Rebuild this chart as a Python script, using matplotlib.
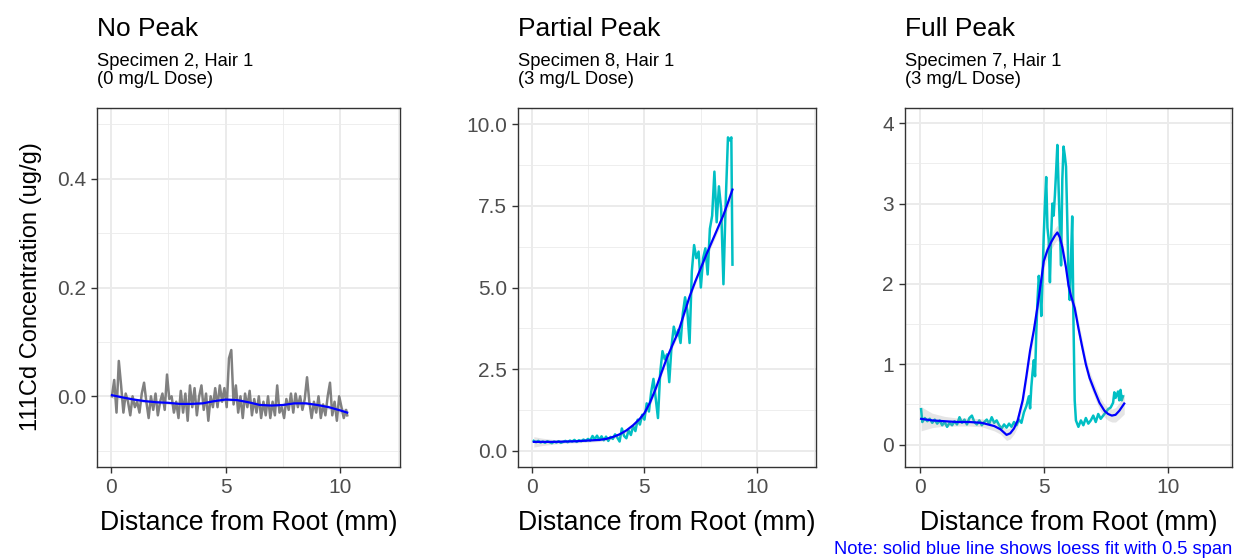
import numpy as np
import matplotlib.pyplot as plt

plt.rcParams['font.family'] = ['Liberation Sans', 'DejaVu Sans']

# Specimen 2, Hair 1 (0 mg/L) - raw trace
x_s2 = [0.05, 0.15, 0.25, 0.35, 0.45, 0.55, 0.65, 0.75, 0.85, 0.95,
        1.05, 1.15, 1.25, 1.35, 1.45, 1.55, 1.65, 1.75, 1.85, 1.95,
        2.05, 2.15, 2.25, 2.35, 2.45, 2.55, 2.65, 2.75, 2.85, 2.95,
        3.05, 3.15, 3.25, 3.35, 3.45, 3.55, 3.65, 3.75, 3.85, 3.95,
        4.05, 4.15, 4.25, 4.35, 4.45, 4.55, 4.65, 4.75, 4.85, 4.95,
        5.05, 5.15, 5.25, 5.35, 5.45, 5.55, 5.65, 5.75, 5.85, 5.95,
        6.05, 6.15, 6.25, 6.35, 6.45, 6.55, 6.65, 6.75, 6.85, 6.95,
        7.05, 7.15, 7.25, 7.35, 7.45, 7.55, 7.65, 7.75, 7.85, 7.95,
        8.05, 8.15, 8.25, 8.35, 8.45, 8.55, 8.65, 8.75, 8.85, 8.95,
        9.05, 9.15, 9.25, 9.35, 9.45, 9.55, 9.65, 9.75, 9.85, 9.95,
        10.05, 10.15, 10.25, 10.3]
y_s2 = [0.000, 0.030, -0.030, 0.065, 0.020, -0.030, 0.005, -0.010, -0.035, 0.000,
        -0.020, -0.010, -0.030, 0.005, 0.025, -0.010, -0.040, 0.000, -0.025, 0.005,
        -0.035, -0.010, 0.005, -0.025, 0.040, -0.005, 0.000, -0.030, -0.010, -0.040,
        0.010, -0.030, 0.005, -0.045, 0.020, -0.020, 0.015, -0.035, 0.000, 0.020,
        -0.025, 0.005, -0.045, 0.000, -0.020, 0.015, -0.020, 0.020, -0.010, 0.015,
        -0.020, 0.070, 0.085, -0.015, 0.020, -0.030, 0.000, -0.040, 0.005, -0.020,
        0.010, -0.035, -0.005, -0.030, 0.000, -0.040, -0.010, -0.035, 0.000, -0.040,
        -0.010, -0.035, 0.020, -0.030, -0.020, -0.040, -0.005, -0.025, 0.005, -0.030,
        0.005, -0.020, 0.000, -0.025, -0.005, 0.035, -0.010, -0.040, -0.010, -0.030,
        0.000, -0.040, -0.015, -0.035, 0.000, 0.025, -0.035, -0.010, -0.045, 0.000,
        -0.020, -0.040, -0.025, -0.035]
# loess fit (span 0.5) and its standard error
fx_s2 = [0.05, 0.5, 1, 1.5, 2, 2.5, 3, 3.5, 4, 4.5, 5, 5.5, 6, 6.5, 7, 7.5,
         8, 8.5, 9, 9.5, 10, 10.3]
fy_s2 = [0.002, -0.002, -0.006, -0.009, -0.011, -0.012, -0.014, -0.014, -0.013,
         -0.009, -0.006, -0.007, -0.011, -0.016, -0.017, -0.016, -0.013, -0.013,
         -0.016, -0.020, -0.026, -0.030]
se_s2 = [0.006, 0.004, 0.003, 0.003, 0.003, 0.003, 0.003, 0.003, 0.003, 0.003,
         0.003, 0.003, 0.003, 0.003, 0.003, 0.003, 0.003, 0.003, 0.003, 0.004,
         0.005, 0.007]

# Specimen 8, Hair 1 (3 mg/L)
x_s8 = [0.1, 0.2, 0.3, 0.4, 0.5, 0.6, 0.7, 0.8, 0.9, 1.0,
        1.1, 1.2, 1.3, 1.4, 1.5, 1.6, 1.7, 1.8, 1.9, 2.0,
        2.1, 2.2, 2.3, 2.4, 2.5, 2.6, 2.7, 2.8, 2.9, 3.0,
        3.1, 3.2, 3.3, 3.4, 3.5, 3.6, 3.7, 3.8, 3.9, 4.0,
        4.1, 4.2, 4.3, 4.4, 4.5, 4.6, 4.7, 4.8, 4.9, 5.0,
        5.1, 5.2, 5.3, 5.4, 5.5, 5.6, 5.7, 5.8, 5.9, 6.0,
        6.1, 6.2, 6.3, 6.4, 6.5, 6.6, 6.7, 6.8, 6.9, 7.0,
        7.1, 7.2, 7.3, 7.4, 7.5, 7.6, 7.7, 7.8, 7.9, 8.0,
        8.1, 8.2, 8.3, 8.4, 8.5, 8.6, 8.7, 8.8, 8.85, 8.9]
y_s8 = [0.30, 0.26, 0.30, 0.25, 0.28, 0.24, 0.29, 0.26, 0.23, 0.28,
        0.25, 0.29, 0.24, 0.27, 0.30, 0.26, 0.31, 0.28, 0.33, 0.27,
        0.32, 0.29, 0.34, 0.30, 0.36, 0.31, 0.45, 0.35, 0.46, 0.33,
        0.44, 0.32, 0.43, 0.30, 0.42, 0.36, 0.50, 0.40, 0.28, 0.68,
        0.45, 0.38, 0.62, 0.48, 0.75, 0.60, 0.95, 0.80, 1.10, 0.95,
        1.45, 1.20, 1.80, 2.20, 1.60, 1.00, 2.40, 3.05, 2.80, 2.95,
        2.10, 3.20, 3.80, 3.50, 3.70, 3.30, 4.20, 4.70, 4.30, 3.30,
        5.50, 6.30, 5.90, 6.10, 5.00, 5.90, 6.20, 5.40, 6.80, 7.20,
        8.55, 7.00, 8.10, 7.40, 5.10, 7.60, 9.60, 9.50, 9.60, 5.70]
fx_s8 = [0.1, 0.5, 1, 1.5, 2, 2.5, 3, 3.3, 3.6, 3.9, 4.2, 4.5, 4.8, 5.0,
         5.25, 5.5, 5.75, 6.0, 6.25, 6.5, 6.75, 7.0, 7.25, 7.5, 7.75, 8.0,
         8.25, 8.5, 8.7, 8.9]
fy_s8 = [0.27, 0.27, 0.27, 0.28, 0.29, 0.31, 0.33, 0.36, 0.42, 0.50, 0.62,
         0.78, 0.98, 1.15, 1.48, 1.90, 2.38, 2.85, 3.25, 3.64, 4.18, 4.72,
         5.18, 5.60, 6.02, 6.42, 6.82, 7.22, 7.60, 8.00]
se_s8 = [0.16, 0.11, 0.07, 0.05, 0.05, 0.05, 0.05, 0.05, 0.05, 0.06, 0.06,
         0.07, 0.08, 0.08, 0.09, 0.09, 0.09, 0.09, 0.09, 0.09, 0.09, 0.09,
         0.09, 0.10, 0.10, 0.11, 0.12, 0.15, 0.18, 0.22]

# Specimen 7, Hair 1 (3 mg/L)
x_s7 = [0.05, 0.1, 0.2, 0.3, 0.4, 0.5, 0.6, 0.7, 0.8, 0.9, 1.0,
        1.1, 1.2, 1.3, 1.4, 1.5, 1.6, 1.7, 1.8, 1.9, 2.0,
        2.1, 2.2, 2.3, 2.4, 2.5, 2.6, 2.7, 2.8, 2.9, 3.0,
        3.1, 3.2, 3.3, 3.4, 3.5, 3.6, 3.7, 3.8, 3.9, 4.0,
        4.1, 4.2, 4.3, 4.4, 4.45, 4.5, 4.55, 4.6, 4.65, 4.7,
        4.75, 4.8, 4.85, 4.9, 4.95, 5.0, 5.05, 5.1, 5.15, 5.2,
        5.25, 5.3, 5.35, 5.4, 5.45, 5.5, 5.55, 5.6, 5.65, 5.7,
        5.75, 5.8, 5.85, 5.9, 5.95, 6.0, 6.05, 6.1, 6.15, 6.2,
        6.25, 6.3, 6.4, 6.5, 6.6, 6.7, 6.8, 6.9, 7.0, 7.1,
        7.2, 7.3, 7.4, 7.5, 7.6, 7.7, 7.8, 7.85, 7.9, 8.0,
        8.05, 8.1, 8.15, 8.2]
y_s7 = [0.44, 0.28, 0.33, 0.29, 0.32, 0.27, 0.31, 0.26, 0.30, 0.24, 0.28,
        0.22, 0.27, 0.24, 0.29, 0.25, 0.34, 0.27, 0.31, 0.25, 0.33,
        0.36, 0.28, 0.25, 0.30, 0.24, 0.28, 0.31, 0.26, 0.34, 0.27,
        0.30, 0.24, 0.20, 0.25, 0.21, 0.26, 0.22, 0.28, 0.24, 0.31,
        0.27, 0.40, 0.48, 0.60, 0.45, 0.72, 0.90, 1.05, 0.85, 1.40,
        1.80, 2.10, 1.95, 1.60, 2.05, 2.60, 3.00, 3.33, 2.70, 2.55,
        2.02, 2.60, 3.00, 2.85, 3.10, 3.40, 3.73, 3.20, 2.70, 2.23,
        3.30, 3.71, 3.60, 3.46, 2.80, 2.10, 1.80, 2.30, 2.84, 1.55,
        0.55, 0.30, 0.22, 0.30, 0.24, 0.33, 0.26, 0.30, 0.36, 0.28,
        0.38, 0.32, 0.36, 0.40, 0.44, 0.46, 0.52, 0.65, 0.58, 0.66,
        0.55, 0.68, 0.55, 0.60]
fx_s7 = [0.05, 0.5, 1, 1.5, 2, 2.5, 3, 3.25, 3.5, 3.65, 3.8, 3.95, 4.15,
         4.3, 4.45, 4.6, 4.75, 4.9, 5.0, 5.15, 5.3, 5.45, 5.55, 5.65, 5.75,
         5.9, 6.0, 6.1, 6.25, 6.4, 6.55, 6.7, 6.85, 7.05, 7.25, 7.45, 7.6,
         7.75, 7.9, 8.05, 8.25]
fy_s7 = [0.32, 0.30, 0.29, 0.28, 0.28, 0.27, 0.23, 0.19, 0.12, 0.14, 0.20,
         0.30, 0.55, 0.85, 1.17, 1.42, 1.72, 2.05, 2.28, 2.42, 2.52, 2.60,
         2.64, 2.58, 2.46, 2.20, 1.98, 1.85, 1.70, 1.45, 1.22, 1.00, 0.83,
         0.67, 0.52, 0.42, 0.38, 0.36, 0.37, 0.42, 0.51]
se_s7 = [0.15, 0.09, 0.06, 0.05, 0.05, 0.05, 0.06, 0.06, 0.07, 0.07, 0.07,
         0.08, 0.08, 0.09, 0.09, 0.09, 0.09, 0.09, 0.09, 0.09, 0.09, 0.09,
         0.09, 0.09, 0.09, 0.09, 0.09, 0.09, 0.09, 0.09, 0.09, 0.08, 0.08,
         0.08, 0.08, 0.08, 0.08, 0.08, 0.09, 0.10, 0.13]

titles = ["No Peak", "Partial Peak", "Full Peak"]
subtitles = [["Specimen 2, Hair 1", "(0 mg/L Dose)"],
             ["Specimen 8, Hair 1", "(3 mg/L Dose)"],
             ["Specimen 7, Hair 1", "(3 mg/L Dose)"]]

W, H = 1236, 560
fig = plt.figure(figsize=(W / 100, H / 100), dpi=100)

# panel boxes in pixels: left, right
boxes = [(97, 400), (518, 816), (905, 1232)]
top, bottom = 108, 467

panels = [
    (x_s2, y_s2, fx_s2, fy_s2, se_s2, '#808080', (-0.13, 0.53),
     [0.0, 0.2, 0.4], ["0.0", "0.2", "0.4"], [-0.1, 0.1, 0.3, 0.5]),
    (x_s8, y_s8, fx_s8, fy_s8, se_s8, '#00BFC4', (-0.5, 10.5),
     [0, 2.5, 5, 7.5, 10], ["0.0", "2.5", "5.0", "7.5", "10.0"],
     [1.25, 3.75, 6.25, 8.75]),
    (x_s7, y_s7, fx_s7, fy_s7, se_s7, '#00BFC4', (-0.28, 4.19),
     [0, 1, 2, 3, 4], ["0", "1", "2", "3", "4"], [0.5, 1.5, 2.5, 3.5]),
]

for i, (xr, yr, fx, fy, se, col, ylim, yt, ytl, ymin) in enumerate(panels):
    l, r = boxes[i]
    ax = fig.add_axes([l / W, (H - bottom) / H, (r - l) / W, (bottom - top) / H])
    for v in ymin:
        ax.axhline(v, color='#ebebeb', lw=0.6, zorder=0)
    for v in [2.5, 7.5, 12.5]:
        ax.axvline(v, color='#ebebeb', lw=0.6, zorder=0)
    for v in yt:
        ax.axhline(v, color='#ebebeb', lw=1.4, zorder=0)
    for v in [0, 5, 10]:
        ax.axvline(v, color='#ebebeb', lw=1.4, zorder=0)

    fy = np.array(fy)
    se = np.array(se)
    ax.plot(xr, yr, color=col, lw=1.8, zorder=2)
    ax.fill_between(fx, fy - se, fy + se, color='#999999', alpha=0.25, lw=0, zorder=3)
    ax.plot(fx, fy, color='#0000FF', lw=1.6, zorder=4)

    ax.set_xlim(-0.6, 12.6)
    ax.set_ylim(*ylim)
    ax.set_xticks([0, 5, 10])
    ax.set_xticklabels(["0", "5", "10"])
    ax.set_yticks(yt)
    ax.set_yticklabels(ytl)
    ax.tick_params(length=4, width=1.0, color='#333333', labelcolor='#4d4d4d',
                   labelsize=15, pad=4)
    for s in ax.spines.values():
        s.set_color('#333333')
        s.set_linewidth(1.0)
    ax.set_xlabel("Distance from Root (mm)", fontsize=19.2, color='black', labelpad=9)

    fig.text(l / W, 1 - 29 / H, titles[i], fontsize=19, va='center', ha='left')
    fig.text(l / W, 1 - 61 / H, subtitles[i][0], fontsize=13.2, va='center', ha='left')
    fig.text(l / W, 1 - 80 / H, subtitles[i][1], fontsize=13.2, va='center', ha='left')

fig.text(31 / W, 1 - 287 / H, "111Cd Concentration (ug/g)", fontsize=17,
         rotation=90, va='center', ha='center')
fig.text(1232 / W, 1 - 549 / H, "Note: solid blue line shows loess fit with 0.5 span",
         fontsize=13.2, color='#0000FF', ha='right', va='center')

fig.savefig("out.png", dpi=100)
